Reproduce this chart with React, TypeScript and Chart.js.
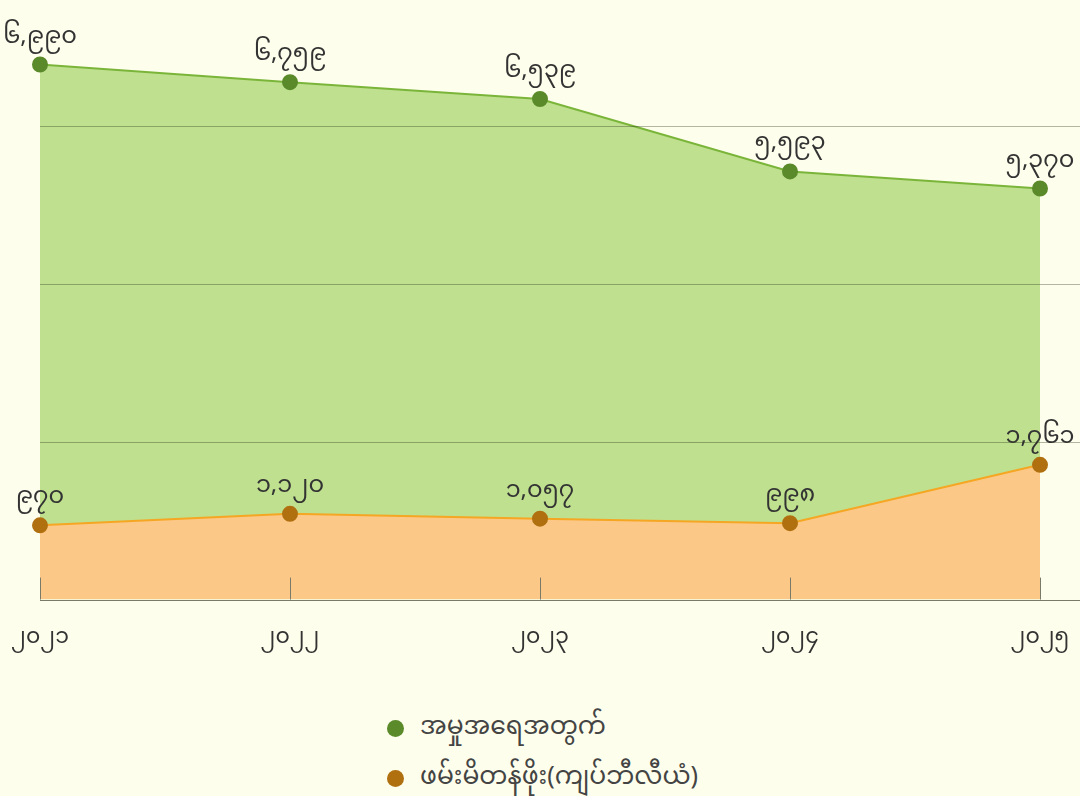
import React, { useEffect, useRef } from "react";
import { Chart, registerables } from "chart.js";

Chart.register(...registerables);

const years = ["၂၀၂၁", "၂၀၂၂", "၂၀၂၃", "၂၀၂၄", "၂၀၂၅"];
const casesValues = [6990, 6759, 6539, 5593, 5370];
const casesLabels = ["၆,၉၉၀", "၆,၇၅၉", "၆,၅၃၉", "၅,၅၉၃", "၅,၃၇၀"];
const seizureValues = [970, 1120, 1057, 998, 1761];
const seizureLabels = ["၉၇၀", "၁,၁၂၀", "၁,၀၅၇", "၉၉၈", "၁,၇၆၁"];
const yGridValues = [2063, 4125, 6188];
const seriesNames = ["အမှုအရေအတွက်", "ဖမ်းမိတန်ဖိုး(ကျပ်ဘီလီယံ)"];

const FONT = '"Noto Sans Myanmar", "Noto Sans", "DejaVu Sans", sans-serif';
const BG = "#fefeec";

const labelPlugin = {
  id: "valueLabels",
  afterDatasetsDraw(chart: any) {
    const ctx = chart.ctx;
    const sets = [casesLabels, seizureLabels];
    ctx.save();
    ctx.font = `24px ${FONT}`;
    ctx.fillStyle = "#333333";
    ctx.textAlign = "center";
    ctx.textBaseline = "alphabetic";
    chart.data.datasets.forEach((ds: any, di: number) => {
      const meta = chart.getDatasetMeta(di);
      meta.data.forEach((pt: any, i: number) => {
        ctx.fillText(sets[di][i], pt.x, pt.y - 22);
      });
    });
    ctx.restore();
  },
};

const overlayPlugin = {
  id: "overlayGrid",
  afterDatasetsDraw(chart: any) {
    const ctx = chart.ctx;
    const xs = chart.scales.x;
    const ys = chart.scales.y;
    const { left, right, bottom } = chart.chartArea;
    ctx.save();
    ctx.lineWidth = 1;
    ctx.strokeStyle = "rgba(40,50,20,0.35)";
    yGridValues.forEach((v) => {
      const y = Math.round(ys.getPixelForValue(v)) + 0.5;
      ctx.beginPath();
      ctx.moveTo(left, y);
      ctx.lineTo(right, y);
      ctx.stroke();
    });
    ctx.strokeStyle = "#7a7a6a";
    years.forEach((_, i) => {
      const x = Math.round(xs.getPixelForValue(i)) + 0.5;
      ctx.beginPath();
      ctx.moveTo(x, bottom - 22);
      ctx.lineTo(x, bottom);
      ctx.stroke();
    });
    ctx.beginPath();
    ctx.moveTo(left, Math.round(bottom) + 0.5);
    ctx.lineTo(right, Math.round(bottom) + 0.5);
    ctx.stroke();
    ctx.restore();
  },
};

const bgPlugin = {
  id: "bg",
  beforeDraw(chart: any) {
    const ctx = chart.ctx;
    ctx.save();
    ctx.fillStyle = BG;
    ctx.fillRect(0, 0, chart.width, chart.height);
    ctx.restore();
  },
};

export default function App() {
  const ref = useRef<HTMLCanvasElement | null>(null);

  useEffect(() => {
    document.body.style.margin = "0";
    document.body.style.background = BG;
    if (!ref.current) return;
    const chart = new Chart(ref.current, {
      type: "line",
      data: {
        datasets: [
          {
            label: seriesNames[0],
            data: casesValues.map((v, i) => ({ x: i, y: v })),
            borderColor: "#7ab53a",
            backgroundColor: "#bfe08f",
            borderWidth: 2,
            fill: "origin",
            pointRadius: 7,
            pointHoverRadius: 7,
            pointBackgroundColor: "#5a8a2a",
            pointBorderColor: "#5a8a2a",
            tension: 0,
            clip: false,
            order: 2,
          },
          {
            label: seriesNames[1],
            data: seizureValues.map((v, i) => ({ x: i, y: v })),
            borderColor: "#f5a623",
            backgroundColor: "#fcc888",
            borderWidth: 2,
            fill: "origin",
            pointRadius: 7,
            pointHoverRadius: 7,
            pointBackgroundColor: "#b07010",
            pointBorderColor: "#b07010",
            tension: 0,
            clip: false,
            order: 1,
          },
        ],
      },
      options: {
        animation: false,
        responsive: false,
        maintainAspectRatio: false,
        layout: { autoPadding: false, padding: { left: 40, right: 0, top: 9, bottom: 6 } },
        plugins: {
          legend: { display: false },
          tooltip: { enabled: false },
        },
        scales: {
          x: {
            type: "linear",
            min: 0,
            max: 4.16,
            border: { display: false },
            grid: { display: false },
            afterBuildTicks: (scale: any) => {
              scale.ticks = years.map((_, i) => ({ value: i }));
            },
            afterFit: (scale: any) => {
              scale.paddingLeft = 0;
              scale.paddingRight = 0;
            },
            ticks: {
              autoSkip: false,
              maxRotation: 0,
              padding: 20,
              color: "#333333",
              font: { size: 22, family: FONT },
              callback: (v: any) => years[Math.round(Number(v))] ?? "",
            },
          },
          y: {
            min: 0,
            max: 7715,
            display: true,
            border: { display: false },
            grid: { display: false },
            ticks: { display: false },
            afterFit: (scale: any) => {
              scale.width = 0;
              scale.paddingTop = 0;
              scale.paddingBottom = 0;
            },
          },
        },
      },
      plugins: [bgPlugin, labelPlugin, overlayPlugin],
    });
    return () => chart.destroy();
  }, []);

  const legendColors = ["#5a8a2a", "#b07010"];

  return (
    <div
      style={{
        position: "fixed",
        left: 0,
        top: 0,
        width: 1080,
        height: 796,
        background: BG,
        overflow: "hidden",
      }}
    >
      <canvas ref={ref} width={1080} height={680} style={{ display: "block" }} />
      <div
        style={{
          position: "absolute",
          left: 387,
          top: 709,
          display: "flex",
          flexDirection: "column",
          gap: 12,
          fontFamily: FONT,
          fontSize: 25,
          color: "#444444",
        }}
      >
        {seriesNames.map((n, i) => (
          <div key={n} style={{ display: "flex", alignItems: "center", height: 38 }}>
            <span
              style={{
                width: 17,
                height: 17,
                borderRadius: 9,
                background: legendColors[i],
                display: "inline-block",
                marginRight: 16,
              }}
            />
            <span>{n}</span>
          </div>
        ))}
      </div>
    </div>
  );
}
